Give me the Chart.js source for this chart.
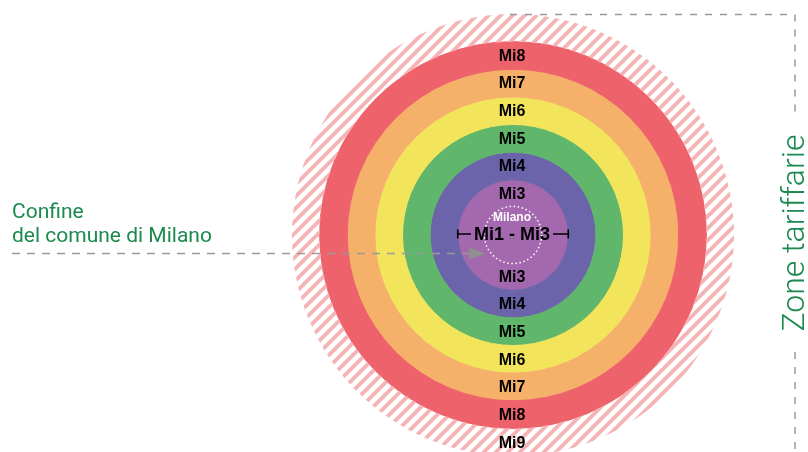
<!DOCTYPE html>
<html>
<head>
<meta charset="utf-8">
<script src="https://cdn.jsdelivr.net/npm/chart.js@4/dist/chart.umd.min.js"></script>
<style>
  html, body { margin: 0; padding: 0; background: #ffffff; }
  #wrap { position: relative; width: 808px; height: 452px; overflow: hidden; background: #ffffff; }
  #c { position: absolute; left: 0; top: 0; }
</style>
</head>
<body>
<div id="wrap"><canvas id="c" width="808" height="470"></canvas></div>
<script>
// ---- data (outermost ring first) ----
const zones = ['Mi9', 'Mi8', 'Mi7', 'Mi6', 'Mi5', 'Mi4', 'Mi3', 'Milano'];
const ringShare = [1, 1, 1, 1, 1, 1, 1, 1];
const centerLabel = 'Mi1 - Mi3';
const leftNote = ['Confine', 'del comune di Milano'];
const rightNote = 'Zone tariffarie';

// ---- styles ----
const ringColors = ['hatch', '#ee626b', '#f5b16a', '#f2e55c', '#60b66a', '#6c64aa', '#a468ae', '#a468ae'];
const green = '#1b8a4e';
const dashGray = '#9a9a9a';

function hatchPattern() {
  const s = 12;
  const t = document.createElement('canvas');
  t.width = s; t.height = s;
  const g = t.getContext('2d');
  g.strokeStyle = '#f6b3b5';
  g.lineWidth = 3.8;
  g.beginPath();
  g.moveTo(-1, s + 1); g.lineTo(s + 1, -1);
  g.moveTo(-4, 4); g.lineTo(4, -4);
  g.moveTo(s - 4, s + 4); g.lineTo(s + 4, s - 4);
  g.stroke();
  return g.createPattern(t, 'repeat');
}

const ctx = document.getElementById('c').getContext('2d');
const pattern = hatchPattern();

const datasets = zones.map((z, i) => {
  const col = ringColors[i] === 'hatch' ? pattern : ringColors[i];
  return {
    label: z,
    data: [ringShare[i]],
    backgroundColor: col,
    borderColor: ringColors[i] === 'hatch' ? 'rgba(0,0,0,0)' : col,
    borderWidth: ringColors[i] === 'hatch' ? 0 : 1,
    hoverOffset: 0
  };
});

const overlay = {
  id: 'overlay',
  afterDraw(chart) {
    const c = chart.ctx;
    const n = zones.length;
    const arc0 = chart.getDatasetMeta(0).data[0];
    const cx = arc0.x, cy = arc0.y;
    c.save();
    // zone labels
    c.fillStyle = '#000';
    c.font = 'bold 16px "Liberation Sans", Arial, sans-serif';
    c.textAlign = 'center';
    c.textBaseline = 'middle';
    for (let i = 0; i < n - 1; i++) {
      const a = chart.getDatasetMeta(i).data[0];
      const mid = (a.innerRadius + a.outerRadius) / 2;
      if (i > 0) c.fillText(zones[i], cx - 1, cy - mid + 1);
      c.fillText(zones[i], cx - 1, cy + mid + 1);
    }
    // centre: dotted Milano circle
    const inner = chart.getDatasetMeta(n - 1).data[0];
    const mi3 = chart.getDatasetMeta(n - 2).data[0];
    c.strokeStyle = '#ffffff';
    c.lineWidth = 1.5;
    c.setLineDash([1.5, 2.6]);
    c.beginPath();
    c.arc(cx, cy, inner.outerRadius + 1, 0, Math.PI * 2);
    c.stroke();
    c.setLineDash([]);
    c.fillStyle = '#ffffff';
    c.font = 'bold 12px "Liberation Sans", Arial, sans-serif';
    c.fillText(zones[n - 1], cx - 1, cy - 17);
    // Mi1 - Mi3 with I-bar
    c.fillStyle = '#000';
    c.font = 'bold 18px "Liberation Sans", Arial, sans-serif';
    const ly = cy - 1;
    c.fillText(centerLabel, cx - 1, ly + 1);
    const tw = c.measureText(centerLabel).width;
    const R = mi3.outerRadius;
    c.strokeStyle = '#000';
    c.lineWidth = 1.6;
    c.beginPath();
    c.moveTo(cx - R, ly); c.lineTo(cx - tw / 2 - 4, ly);
    c.moveTo(cx + tw / 2 + 2, ly); c.lineTo(cx + R, ly);
    c.moveTo(cx - R, ly - 4.5); c.lineTo(cx - R, ly + 4.5);
    c.moveTo(cx + R, ly - 4.5); c.lineTo(cx + R, ly + 4.5);
    c.stroke();

    // left note + arrow
    c.fillStyle = green;
    c.font = '21px Roboto, "Noto Sans", sans-serif';
    c.textAlign = 'left';
    c.textBaseline = 'alphabetic';
    c.fillText(leftNote[0], 12, 218);
    c.fillText(leftNote[1], 12, 242);
    c.strokeStyle = dashGray;
    c.lineWidth = 1.5;
    c.setLineDash([8, 7]);
    c.beginPath();
    c.moveTo(12, 253.5); c.lineTo(470, 253.5);
    c.stroke();
    c.setLineDash([]);
    c.fillStyle = '#8f8f8f';
    c.beginPath();
    c.moveTo(469, 247.5); c.lineTo(486, 253.5); c.lineTo(469, 259.5);
    c.closePath();
    c.fill();

    // right bracket + label
    c.strokeStyle = dashGray;
    c.lineWidth = 1.5;
    c.setLineDash([7, 8]);
    c.beginPath();
    c.moveTo(510, 14.5); c.lineTo(795, 14.5); c.lineTo(795, 117);
    c.moveTo(795, 352); c.lineTo(795, 470);
    c.stroke();
    c.setLineDash([]);
    c.translate(804, 233);
    c.rotate(-Math.PI / 2);
    c.fillStyle = green;
    c.font = '300 32px Roboto, "Noto Sans", sans-serif';
    c.textAlign = 'center';
    c.textBaseline = 'alphabetic';
    c.fillText(rightNote, 0, 0);
    c.restore();
  }
};

new Chart(ctx, {
  type: 'doughnut',
  data: { labels: ['zona'], datasets },
  options: {
    responsive: false,
    animation: false,
    cutout: 0,
    layout: { padding: { top: 14, bottom: 14, left: 292, right: 74 } },
    plugins: { legend: { display: false }, tooltip: { enabled: false } },
    events: []
  },
  plugins: [overlay]
});
</script>
</body>
</html>
